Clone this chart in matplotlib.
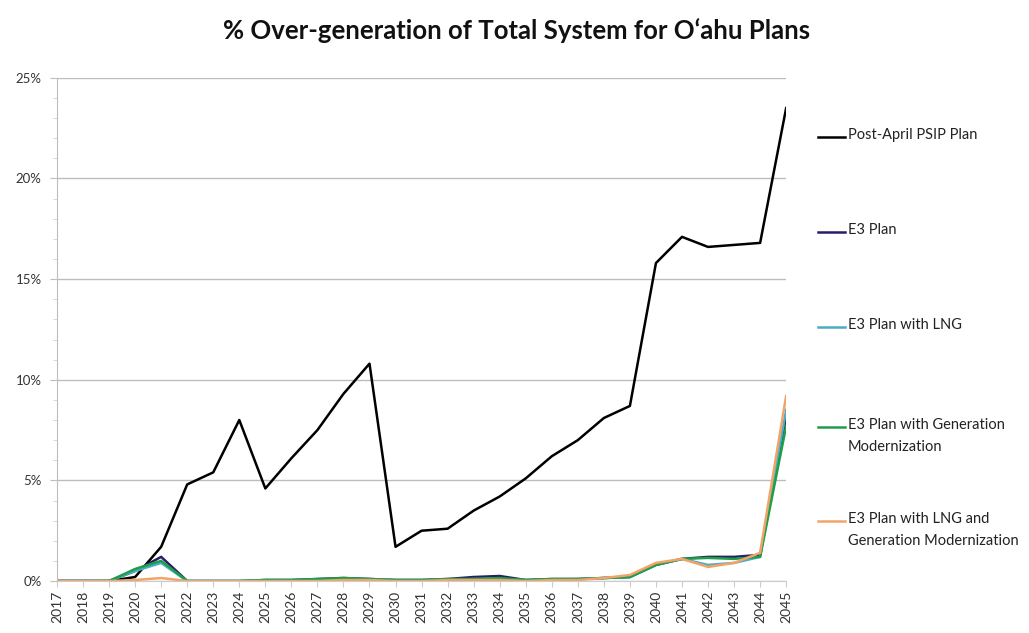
import matplotlib
matplotlib.use('Agg')
import matplotlib.pyplot as plt
from matplotlib.lines import Line2D
from matplotlib.ticker import MultipleLocator, FuncFormatter

years = [str(y) for y in range(2017, 2046)]

# % over-generation
post_april = [0, 0, 0, 0.2, 1.7, 4.8, 5.4, 8.0, 4.6, 6.1, 7.5, 9.3, 10.8, 1.7, 2.5,
              2.6, 3.5, 4.2, 5.1, 6.2, 7.0, 8.1, 8.7, 15.8, 17.1, 16.6, 16.7, 16.8, 23.5]
e3_plan = [0, 0, 0, 0.5, 1.2, 0, 0, 0, 0.05, 0.05, 0.1, 0.15, 0.1, 0.05, 0.05,
           0.1, 0.2, 0.25, 0.05, 0.1, 0.1, 0.15, 0.2, 0.8, 1.1, 1.2, 1.2, 1.3, 8.0]
e3_lng = [0, 0, 0, 0.5, 0.9, 0, 0, 0, 0.05, 0.05, 0.05, 0.1, 0.1, 0.05, 0.05,
          0.05, 0.1, 0.1, 0.05, 0.05, 0.1, 0.15, 0.2, 0.8, 1.1, 0.8, 0.9, 1.2, 8.5]
e3_genmod = [0, 0, 0, 0.6, 1.0, 0, 0, 0, 0.05, 0.05, 0.1, 0.15, 0.1, 0.05, 0.05,
             0.1, 0.1, 0.15, 0.05, 0.1, 0.1, 0.15, 0.2, 0.8, 1.1, 1.15, 1.1, 1.2, 7.7]
e3_lng_genmod = [0, 0, 0, 0.05, 0.15, 0, 0, 0, 0, 0, 0, 0.05, 0.05, 0, 0,
                 0.05, 0.05, 0.05, 0, 0.05, 0.05, 0.15, 0.3, 0.9, 1.1, 0.7, 0.9, 1.4, 9.2]

series = [
    ('Post-April PSIP Plan', post_april, '#000000'),
    ('E3 Plan', e3_plan, '#241f66'),
    ('E3 Plan with LNG', e3_lng, '#4bacc6'),
    ('E3 Plan with Generation\nModernization', e3_genmod, '#1f9e4a'),
    ('E3 Plan with LNG and\nGeneration Modernization', e3_lng_genmod, '#f2a468'),
]

FONT = ['Lato', 'DejaVu Sans']

fig = plt.figure(figsize=(10.29, 6.33), dpi=100)
ax = fig.add_axes([0.0554, 0.0821, 0.7086, 0.7949])

x = list(range(len(years)))
for name, vals, col in series:
    ax.plot(x, vals, color=col, lw=1.8, solid_joinstyle='round')

ax.set_xlim(0, len(years) - 1)
ax.set_ylim(0, 25)
ax.yaxis.set_major_locator(MultipleLocator(5))
ax.yaxis.set_minor_locator(MultipleLocator(1))
ax.yaxis.set_major_formatter(FuncFormatter(lambda v, p: '%d%%' % v))
ax.grid(axis='y', which='major', color='#bdbdbd', lw=1)
ax.set_axisbelow(True)

ax.set_xticks(x)
ax.set_xticklabels(years, rotation=90, fontfamily=FONT, fontsize=10, color='#333333')
for lab in ax.get_yticklabels():
    lab.set_fontfamily(FONT)
    lab.set_fontsize(9.5)
    lab.set_color('#333333')
ax.tick_params(axis='x', length=4, color='#cccccc', pad=3)
ax.tick_params(axis='y', which='major', length=5, color='#bdbdbd', pad=6)
ax.tick_params(axis='y', which='minor', length=3, color='#d0d0d0')

for s in ['top', 'right']:
    ax.spines[s].set_visible(False)
ax.spines['left'].set_color('#bdbdbd')
ax.spines['bottom'].set_color('#cccccc')

fig.text(0.502, 0.952, '% Over-generation of Total System for O\u2018ahu Plans',
         ha='center', va='center', fontsize=18.5, fontweight='bold', fontfamily=FONT,
         color='#111111')

# legend drawn by hand, entries are spread down the right side
leg_y = [137, 232, 327, 427, 521]
for (name, vals, col), py in zip(series, leg_y):
    fy = 1 - py / 633
    fig.lines.append(Line2D([818 / 1029, 845 / 1029], [fy, fy], color=col, lw=1.8,
                            transform=fig.transFigure))
    fig.text(848 / 1029, fy + 0.014, name, ha='left', va='top', fontsize=10.5,
             fontfamily=FONT, color='#222222', linespacing=1.75)

fig.savefig('out.png', dpi=100)
